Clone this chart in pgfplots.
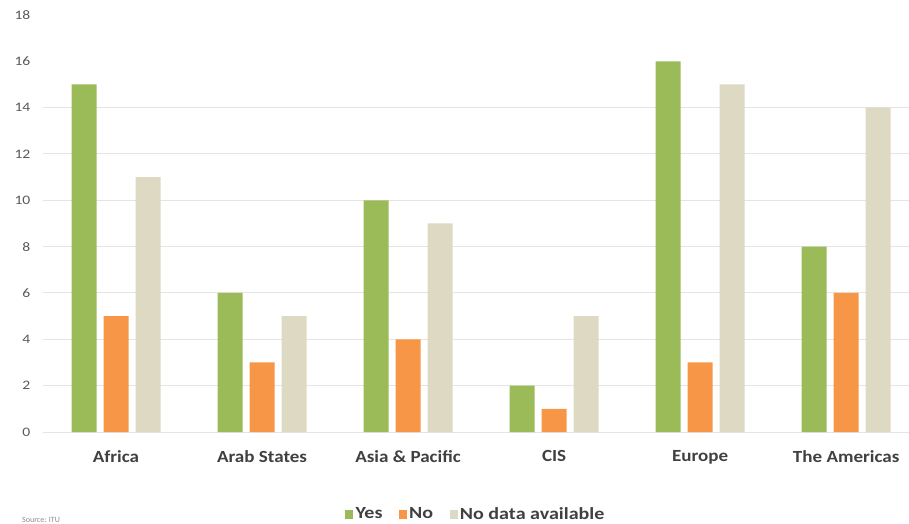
\documentclass[border=0pt]{standalone}
\usepackage{fontspec}
\setmainfont{Carlito}
\usepackage{pgfplots}
\pgfplotsset{compat=1.18}

\definecolor{yesgreen}{RGB}{155,187,89}
\definecolor{noorange}{RGB}{247,150,70}
\definecolor{nodatabeige}{RGB}{221,217,195}
\definecolor{gridgray}{RGB}{228,228,228}
\definecolor{ticktext}{RGB}{89,89,89}
\definecolor{cattext}{RGB}{64,64,64}

\begin{document}
\begin{tikzpicture}
\path[use as bounding box] (0,0) rectangle (909bp,524bp);
\begin{axis}[
  at={(43bp,92bp)}, anchor=south west,
  scale only axis,
  width=866bp, height=417bp,
  ybar=7bp, bar width=25bp,
  xmin=-0.5, xmax=5.43,
  ymin=0, ymax=18,
  xtick={0,1,2,3,4,5},
  xticklabels={Africa, Arab States, Asia \& Pacific, CIS, Europe, The Americas},
  ytick={0,2,...,14},
  extra y ticks={16,18},
  extra y tick style={grid=none},
  ymajorgrids,
  grid style={gridgray, line width=1bp},
  axis line style={draw=none},
  major tick length=0pt,
  /pgf/number format/assume math mode=true,
  yticklabel style={font=\fontsize{13bp}{15bp}\selectfont, text=ticktext, xscale=1.2, xshift=-7bp},
  xticklabel style={font=\bfseries\fontsize{17bp}{20bp}\selectfont, text=cattext, xscale=1.12, yshift=-15bp},
  legend columns=-1,
  legend style={at={(0.5,-0.197)}, anchor=center, draw=none, fill=none,
    font=\bfseries\fontsize{17bp}{20bp}\selectfont, text=cattext,
    nodes={xscale=1.18},
    /tikz/every even column/.append style={column sep=14bp}},
  legend image code/.code={\fill[#1,draw=none] (0bp,-4.5bp) rectangle (8bp,4.5bp);},
]
\addplot[fill=yesgreen, draw=none] coordinates {(0,15) (1,6) (2,10) (3,2) (4,16) (5,8)};
\addplot[fill=noorange, draw=none] coordinates {(0,5) (1,3) (2,4) (3,1) (4,3) (5,6)};
\addplot[fill=nodatabeige, draw=none] coordinates {(0,11) (1,5) (2,9) (3,5) (4,15) (5,14)};
\legend{Yes, No, No data available}
\end{axis}
\node[anchor=south west, inner sep=0pt, text=ticktext!70, font=\fontsize{8bp}{9bp}\selectfont] at (22bp,1bp) {Source: ITU};
\end{tikzpicture}
\end{document}
